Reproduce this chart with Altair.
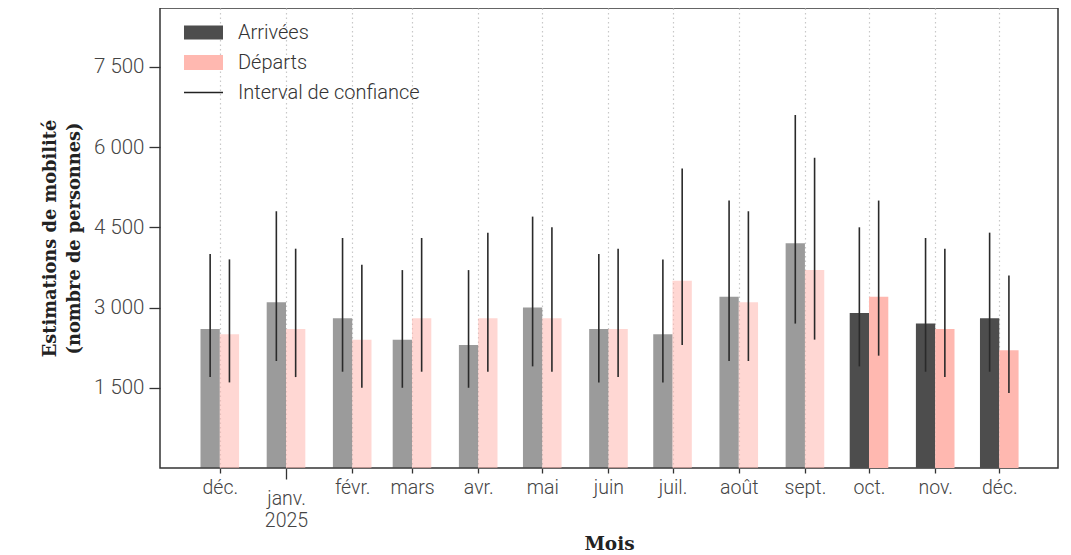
import altair as alt
import pandas as pd

months = ["2024-12-01", "2025-01-01", "2025-02-01", "2025-03-01", "2025-04-01",
          "2025-05-01", "2025-06-01", "2025-07-01", "2025-08-01", "2025-09-01",
          "2025-10-01", "2025-11-01", "2025-12-01"]
statut = ["provisoire"] * 10 + ["définitif"] * 3

arr = [2600, 3100, 2800, 2400, 2300, 3000, 2600, 2500, 3200, 4200, 2900, 2700, 2800]
arr_lo = [1700, 2000, 1800, 1500, 1500, 1900, 1600, 1600, 2000, 2700, 1900, 1800, 1800]
arr_hi = [4000, 4800, 4300, 3700, 3700, 4700, 4000, 3900, 5000, 6600, 4500, 4300, 4400]

dep = [2500, 2600, 2400, 2800, 2800, 2800, 2600, 3500, 3100, 3700, 3200, 2600, 2200]
dep_lo = [1600, 1700, 1500, 1800, 1800, 1800, 1700, 2300, 2000, 2400, 2100, 1700, 1400]
dep_hi = [3900, 4100, 3800, 4300, 4400, 4500, 4100, 5600, 4800, 5800, 5000, 4100, 3600]

series = ["Arrivées", "Départs", "Interval de confiance"]
colors = ["#4d4d4d", "#ffb8b0", "#222222"]
y_ticks = [1500, 3000, 4500, 6000, 7500]

df_arr = pd.DataFrame({"mois": months, "série": "Arrivées", "valeur": arr,
                       "bas": arr_lo, "haut": arr_hi, "statut": statut})
df_dep = pd.DataFrame({"mois": months, "série": "Départs", "valeur": dep,
                       "bas": dep_lo, "haut": dep_hi, "statut": statut})
df_leg = pd.DataFrame({"série": series})

TICK_FONT = "Roboto"
TITLE_FONT = "DejaVu Serif"

x_scale = alt.Scale(type="utc", nice=False, padding=0,
                    domain=[alt.DateTime(year=2024, month=11, date=3, utc=True),
                            alt.DateTime(year=2025, month=12, date=28, hours=12, utc=True)])
x_values = [alt.DateTime(year=int(m[:4]), month=int(m[5:7]), date=1, utc=True) for m in months]

month_names = "['janv.','févr.','mars','avr.','mai','juin','juil.','août','sept.','oct.','nov.','déc.']"
x_axis = alt.Axis(
    title="Mois", values=x_values,
    labelExpr=f"utcmonth(datum.value) == 0 ? [{month_names}[0], utcFormat(datum.value, '%Y')] : {month_names}[utcmonth(datum.value)]",
    labelFont=TICK_FONT, labelFontSize=19.5, labelFontWeight=300, labelColor="#444",
    labelLineHeight=22,
    labelPadding={"condition": {"test": "utcmonth(datum.value) == 0", "value": 10}, "value": 5},
    tickSize={"condition": {"test": "utcmonth(datum.value) == 0", "value": 11}, "value": 5},
    tickColor="#333", tickWidth=1.3, domain=False,
    grid=True, gridColor="#c8c8c8", gridDash=[1.5, 3], gridWidth=1.2,
    titleFont=TITLE_FONT, titleFontSize=18.5, titleFontWeight="bold", titleColor="#222",
    titlePadding=5,
)
y_scale = alt.Scale(domain=[0, 8600], nice=False)
y_axis = alt.Axis(
    title=["Estimations de mobilité", "(nombre de personnes)"], values=y_ticks,
    labelExpr="replace(format(datum.value, ','), ',', ' ')",
    labelFont=TICK_FONT, labelFontSize=20.5, labelFontWeight=300, labelColor="#444",
    labelPadding=5, tickSize=11, tickColor="#333", tickWidth=1.3, domain=False, grid=False,
    titleFont=TITLE_FONT, titleFontSize=17.8, titleFontWeight="bold", titleColor="#222",
    titleLineHeight=24, titlePadding=10,
)

color_scale = alt.Scale(domain=series, range=colors)
opacity_scale = alt.Scale(domain=["provisoire", "définitif"], range=[0.56, 1.0])

BW = 19.3

def bars(df, offset):
    return alt.Chart(df).mark_bar(width=BW, xOffset=offset).encode(
        x=alt.X("mois:T", scale=x_scale, axis=x_axis),
        y=alt.Y("valeur:Q", scale=y_scale, axis=y_axis),
        color=alt.Color("série:N", scale=color_scale),
        opacity=alt.Opacity("statut:N", scale=opacity_scale, legend=None),
    )

def rules(df, offset):
    return alt.Chart(df).mark_rule(xOffset=offset, strokeWidth=1.6, color="#2a2a2a").encode(
        x=alt.X("mois:T", scale=x_scale),
        y=alt.Y("bas:Q", scale=y_scale),
        y2="haut:Q",
    )

legend_layer = alt.Chart(df_leg).transform_filter("false").mark_point(filled=True, opacity=1).encode(
    color=alt.Color("série:N", scale=color_scale, legend=alt.Legend(
        title=None, orient="none", legendX=29, legendY=10, padding=0,
        symbolSize=841, symbolOpacity=1, symbolStrokeWidth=0,
        labelFont=TICK_FONT, labelFontSize=20, labelFontWeight=300, labelColor="#333",
        labelOffset=20, rowPadding=5, labelLimit=400)),
    shape=alt.Shape("série:N", scale=alt.Scale(domain=series, range=[
        "M-1.345,-0.483H1.345V0.483H-1.345Z",
        "M-1.345,-0.517H1.345V0.517H-1.345Z",
        "M-1.345,-0.055H1.345V0.055H-1.345Z"])),
)

chart = alt.layer(
    bars(df_arr, -BW / 2), bars(df_dep, BW / 2),
    rules(df_arr, -BW / 2), rules(df_dep, BW / 2),
    legend_layer,
).properties(
    width=898, height=460,
    autosize=alt.AutoSizeParams(type="none"),
    padding={"left": 152, "top": 0, "right": 5, "bottom": 86},
).configure_view(stroke="#333", strokeWidth=1.5)

chart.save("out.html", embed_options={"renderer": "svg", "actions": False})
